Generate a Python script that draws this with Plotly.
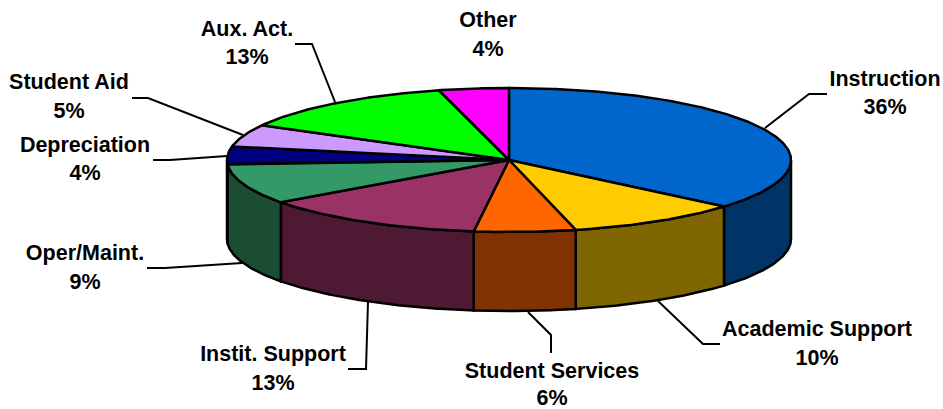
import numpy as np
import plotly.graph_objects as go

categories = ["Instruction", "Academic Support", "Student Services", "Instit. Support",
              "Oper/Maint.", "Depreciation", "Student Aid", "Aux. Act.", "Other"]
values = [36.2, 10.0, 5.8, 13, 9, 4, 5, 13, 4]
top_colors = ["#0066CC", "#FFCC00", "#FF6600", "#993366", "#339966",
              "#000080", "#CC99FF", "#00FF00", "#FF00FF"]
wall_colors = ["#003366", "#806600", "#803300", "#4D1933", "#1A4D33",
               "#000040", "#664D80", "#008000", "#800080"]

# Projection of the tilted pie, in page pixels
CX, CY, RX, RY, DEPTH = 509, 160, 282, 72, 79
W, H = 943, 409

label_x = [885, 817, 552, 273, 85, 85, 69, 247, 488]
name_y = [81, 331, 373, 356, 255, 147, 84, 31, 22]
pct_y = [109, 360, 400, 385, 284, 175, 113, 59, 51]

leaders = [
    [(827, 94), (809, 94), (765, 128)],
    [(720, 344), (703, 344), (658, 301)],
    [(551, 353), (551, 335), (528, 312)],
    [(348, 369), (366, 369), (368, 302)],
    [(147, 268), (165, 268), (242, 263)],
    [(153, 160), (170, 160), (227, 156)],
    [(132, 98), (148, 98), (243, 135)],
    [(295, 44), (312, 44), (335, 102)],
]


def rim(a0, a1, dy=0.0):
    n = max(2, int(abs(a1 - a0) * 2) + 2)
    t = np.radians(np.linspace(a0, a1, n))
    return CX + RX * np.sin(t), CY - RY * np.cos(t) + dy


fig = go.Figure()
edges = np.concatenate([[0], np.cumsum(values)]) / sum(values) * 360

# Visible side walls (front half of the rim only)
for i, col in enumerate(wall_colors):
    a0, a1 = max(edges[i], 90), min(edges[i + 1], 270)
    if a1 <= a0:
        continue
    x0, y0 = rim(a0, a1)
    x1, y1 = rim(a1, a0, DEPTH)
    fig.add_trace(go.Scatter(
        x=np.concatenate([x0, x1, x0[:1]]), y=np.concatenate([y0, y1, y0[:1]]),
        mode="lines", fill="toself", fillcolor=col,
        line=dict(color="black", width=2.5), hoverinfo="skip", showlegend=False))

# Top face
for i, col in enumerate(top_colors):
    x, y = rim(edges[i], edges[i + 1])
    fig.add_trace(go.Scatter(
        x=np.concatenate([[CX], x, [CX]]), y=np.concatenate([[CY], y, [CY]]),
        mode="lines", fill="toself", fillcolor=col,
        line=dict(color="black", width=2.5), hoverinfo="skip", showlegend=False))

# Leader lines
for pts in leaders:
    fig.add_trace(go.Scatter(
        x=[p[0] for p in pts], y=[p[1] for p in pts], mode="lines",
        line=dict(color="black", width=2), hoverinfo="skip", showlegend=False))

# Labels
font = dict(family="Liberation Sans, Arial, sans-serif", size=21.5, color="black")
fig.add_trace(go.Scatter(
    x=label_x, y=name_y, text=[f"<b>{c}</b>" for c in categories], mode="text",
    textposition="middle center", textfont=font, hoverinfo="skip", showlegend=False,
    cliponaxis=False))
fig.add_trace(go.Scatter(
    x=label_x, y=pct_y, text=[f"<b>{round(v)}%</b>" for v in values], mode="text",
    textposition="middle center", textfont=font, hoverinfo="skip", showlegend=False,
    cliponaxis=False))

fig.update_layout(
    width=W, height=H, margin=dict(l=0, r=0, t=0, b=0),
    paper_bgcolor="white", plot_bgcolor="white",
    xaxis=dict(range=[0, W], visible=False, fixedrange=True),
    yaxis=dict(range=[H, 0], visible=False, fixedrange=True),
)
fig.write_html("out.html", config={"displayModeBar": False},
               post_script="document.body.style.margin='0';document.body.style.overflow='hidden';")
